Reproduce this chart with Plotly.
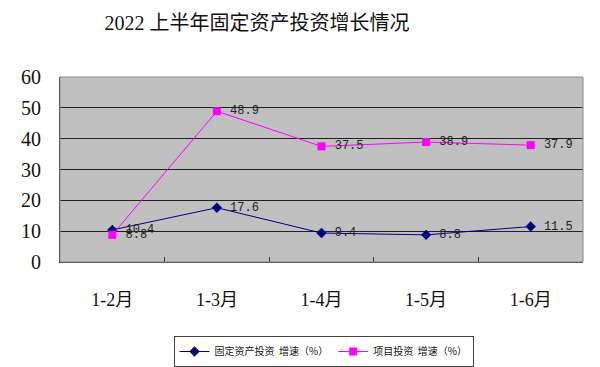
import plotly.graph_objects as go

categories = ["1-2月", "1-3月", "1-4月", "1-5月", "1-6月"]
fixed_asset = [10.4, 17.6, 9.4, 8.8, 11.5]
project = [8.8, 48.9, 37.5, 38.9, 37.9]
fixed_labels = ["10.4", "17.6", "9.4", "8.8", "11.5"]
project_labels = ["8.8", "48.9", "37.5", "38.9", "37.9"]
y_ticks = [0, 10, 20, 30, 40, 50, 60]

serif = "Liberation Serif, Noto Sans CJK SC, serif"
mono = "Liberation Mono, DejaVu Sans Mono, monospace"

fig = go.Figure()
fig.add_trace(go.Scatter(
    x=categories, y=fixed_asset, mode="lines+markers+text",
    name="固定资产投资  增速（%）",
    line=dict(color="#000080", width=1),
    marker=dict(symbol="diamond", size=8, color="#000080"),
    text=fixed_labels, texttemplate=" %{text}", textposition="middle right",
    textfont=dict(family=mono, size=12, color="#222222"),
))
fig.add_trace(go.Scatter(
    x=categories, y=project, mode="lines+markers+text",
    name="项目投资  增速（%）",
    line=dict(color="#FF00FF", width=1),
    marker=dict(symbol="square", size=8, color="#FF00FF"),
    text=project_labels, texttemplate=" %{text}", textposition="middle right",
    textfont=dict(family=mono, size=12, color="#222222"),
))

fig.update_layout(
    width=600, height=367,
    margin=dict(l=60, r=17, t=77, b=105, autoexpand=False),
    paper_bgcolor="white",
    plot_bgcolor="#C0C0C0",
    title=dict(text="2022 上半年固定资产投资增长情况",
               x=257 / 600, xanchor="center", xref="container",
               y=1 - 23 / 367, yanchor="middle", yref="container",
               font=dict(family=serif, size=20, color="#111111")),
    xaxis=dict(
        type="category", range=[-0.5, 4.5],
        showgrid=False, ticks="inside", tickson="boundaries",
        ticklen=5, tickcolor="#333333",
        showline=True, linecolor="#333333", linewidth=1,
        ticklabelstandoff=21, automargin=False,
        tickfont=dict(family=serif, size=18, color="#111111"),
    ),
    yaxis=dict(
        range=[0, 60], tickvals=y_ticks,
        showgrid=True, gridcolor="#222222", gridwidth=1,
        showline=True, linecolor="#333333", linewidth=1,
        zeroline=False, ticks="", automargin=False,
        ticklabelstandoff=14,
        tickfont=dict(family=serif, size=20, color="#111111"),
    ),
    legend=dict(
        orientation="h", x=(171 + 476) / 2 / 600, xanchor="center", xref="container",
        y=1 - 336 / 367, yanchor="top", yref="container",
        bordercolor="#444444", borderwidth=1, bgcolor="white",
        font=dict(family="Noto Sans CJK SC", size=10, color="#111111"),
    ),
    showlegend=True,
)
fig.add_shape(type="rect", xref="paper", yref="paper", x0=0, y0=0, x1=1, y1=1,
              line=dict(color="#888888", width=1))

fig.write_html("out.html")
